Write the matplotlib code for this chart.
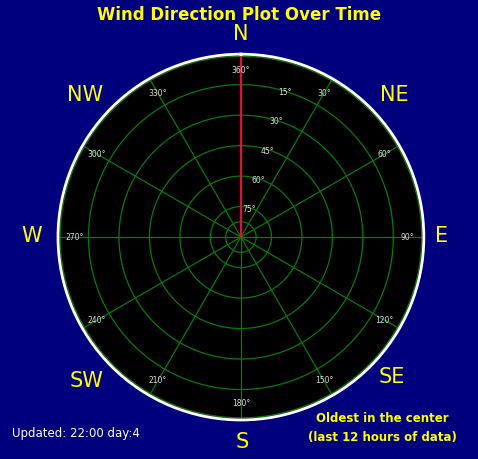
import numpy as np
import matplotlib
matplotlib.use("Agg")
import matplotlib.pyplot as plt

hours = [0.5, 1, 1.5, 2, 2.5, 3, 3.5, 4, 4.5, 5, 5.5, 6]
directions = [360]*12
ring_vals = [90, 75, 60, 45, 30, 15]
ring_r = [0.5, 1, 2, 3, 4, 5]
spokes = list(range(0, 360, 30))
compass = ["N", "NE", "E", "SE", "S", "SW", "W", "NW"]

navy = "#00007f"
fig = plt.figure(figsize=(4.78, 4.59), dpi=100)
fig.patch.set_facecolor(navy)
ax = fig.add_axes([0.121, 0.085, 0.766, 0.797], projection="polar")
ax.set_facecolor("black")
ax.set_theta_zero_location("N")
ax.set_theta_direction(-1)
ax.set_ylim(0, 6)
ax.set_xticks([]); ax.set_yticks([])
ax.grid(False)
ax.spines["polar"].set_color("white")
ax.spines["polar"].set_linewidth(2)
green = "#0b7a0b"
th = np.linspace(0, 2*np.pi, 400)
for r in [0.5, 1, 2, 3, 4, 5, 5.93]:
    ax.plot(th, [r]*len(th), color=green, lw=0.9)
for s in spokes:
    ax.plot([np.radians(s)]*2, [0, 6], color=green, lw=0.9)
for s in spokes:
    lab = "360°" if s == 0 else f"{s}°"
    ax.text(np.radians(s), 5.45, lab, color="#dddddd", fontsize=5.5, ha="center", va="center")
for v, r in zip(ring_vals[1:], ring_r[1:]):
    ax.text(np.radians(17), r - 0.05, f"{v}°", color="#dddddd", fontsize=5.5, ha="center", va="center")
ax.plot(np.radians(directions), hours, color="#e0103a", lw=1.6)
ax.plot([np.radians(directions[0])]*2, [0, hours[0]], color="#e0103a", lw=1.6)

cx, cy = 241/478, 1-237/459
pos = {"N": (241, 34), "NE": (394, 95), "E": (442, 236), "SE": (392, 377),
       "S": (242, 442), "SW": (87, 381), "W": (32, 236), "NW": (85, 95)}
for c in compass:
    x, y = pos[c]
    fig.text(x/478, 1-y/459, c, color="#ffff00", fontsize=15, ha="center", va="center")
fig.text(0.5, 1-15/459, "Wind Direction Plot Over Time", color="#ffff00", fontsize=12,
         fontweight="bold", ha="center", va="center")
fig.text(12/478, 1-434/459, "Updated: 22:00 day:4", color="white", fontsize=8.5, va="center")
fig.text(382/478, 1-418/459, "Oldest in the center", color="#ffff00", fontsize=8.5,
         fontweight="bold", ha="center", va="center")
fig.text(382/478, 1-438/459, "(last 12 hours of data)", color="#ffff00", fontsize=8.5,
         fontweight="bold", ha="center", va="center")
fig.savefig("out.png", dpi=100, facecolor=navy)
